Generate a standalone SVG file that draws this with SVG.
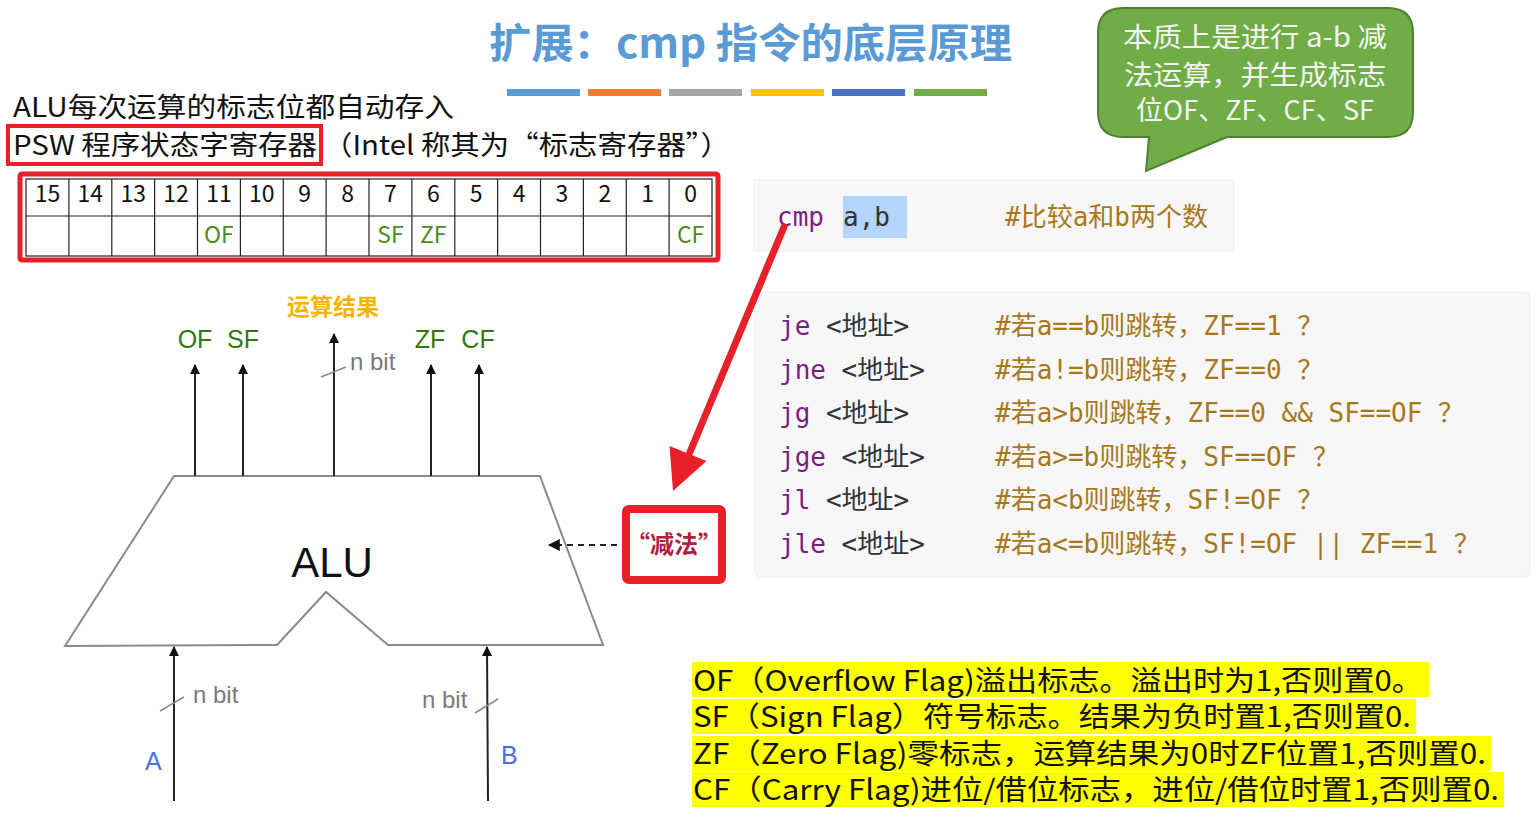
<svg xmlns="http://www.w3.org/2000/svg" width="1540" height="824" viewBox="0 0 1540 824">
<defs>
<marker id="ah" viewBox="0 0 10 10" refX="9" refY="5" markerWidth="14" markerHeight="10" orient="auto" markerUnits="userSpaceOnUse">
<path d="M0,0 L10,5 L0,10 z" fill="#111"/>
</marker>
<marker id="ah2" viewBox="0 0 10 10" refX="9" refY="5" markerWidth="14" markerHeight="12" orient="auto" markerUnits="userSpaceOnUse">
<path d="M0,0 L10,5 L0,10 z" fill="#111"/>
</marker>
<style>
.cjk{font-family:"Noto Sans CJK SC","Noto Sans",sans-serif;}
.sans{font-family:"Liberation Sans","Noto Sans CJK SC",sans-serif;}
.mono{font-family:"DejaVu Sans Mono","Noto Sans CJK SC",monospace;font-size:26px;}
.ins{fill:#7B1F7F;}
.arg{fill:#333;}
.cmt{fill:#A8771A;}
.num{font-family:"Noto Sans CJK SC",sans-serif;font-size:23px;fill:#111;text-anchor:middle;}
.flag{font-family:"Noto Sans CJK SC",sans-serif;font-size:23px;fill:#4E8A1E;text-anchor:middle;}
.gflag{font-family:"Liberation Sans",sans-serif;font-size:25px;fill:#2F7A10;text-anchor:middle;}
.nbit{font-family:"Liberation Sans",sans-serif;font-size:24px;fill:#7a7a7a;}
.wire{stroke:#222;stroke-width:2;fill:none;}
.tick{stroke:#888;stroke-width:1.5;}
.grid{stroke:#222;stroke-width:1.2;}
.ylw{fill:#FFFF00;}
.yt{font-family:"Noto Sans CJK SC",sans-serif;font-size:28px;fill:#111;}
</style>
</defs>
<rect width="1540" height="824" fill="#FFFFFF"/>

<g id="title">
<text x="489" y="58" class="cjk" font-size="41" font-weight="700" fill="#5B9BD5" textLength="523" lengthAdjust="spacingAndGlyphs">扩展：cmp 指令的底层原理</text>
<rect x="507" y="89" width="73" height="7" fill="#5B9BD5"/>
<rect x="588" y="89" width="73" height="7" fill="#ED7D31"/>
<rect x="669" y="89" width="73" height="7" fill="#A5A5A5"/>
<rect x="751" y="89" width="73" height="7" fill="#FFC000"/>
<rect x="832" y="89" width="73" height="7" fill="#4472C4"/>
<rect x="914" y="89" width="73" height="7" fill="#70AD47"/>
</g>

<g id="intro">
<text x="13" y="117" class="cjk" font-size="27" fill="#111" textLength="441" lengthAdjust="spacingAndGlyphs">ALU每次运算的标志位都自动存入</text>
<rect x="8" y="126" width="313" height="38" fill="none" stroke="#E8202A" stroke-width="4"/>
<text x="13" y="155" class="cjk" font-size="27" fill="#111" textLength="304" lengthAdjust="spacingAndGlyphs">PSW 程序状态字寄存器</text>
<text x="323" y="155" class="cjk" font-size="27" fill="#111" textLength="407" lengthAdjust="spacingAndGlyphs">（Intel 称其为“标志寄存器”）</text>
</g>

<g id="psw-register">
<rect x="20" y="174" width="698" height="86" fill="none" stroke="#E8202A" stroke-width="5" rx="2"/>
<rect x="26" y="179" width="686" height="77" fill="#fff" class="grid"/>
<line x1="26" y1="216" x2="712" y2="216" class="grid"/>
<g class="grid">
<line x1="68.9" y1="179" x2="68.9" y2="256"/>
<line x1="111.8" y1="179" x2="111.8" y2="256"/>
<line x1="154.6" y1="179" x2="154.6" y2="256"/>
<line x1="197.5" y1="179" x2="197.5" y2="256"/>
<line x1="240.4" y1="179" x2="240.4" y2="256"/>
<line x1="283.3" y1="179" x2="283.3" y2="256"/>
<line x1="326.1" y1="179" x2="326.1" y2="256"/>
<line x1="369" y1="179" x2="369" y2="256"/>
<line x1="411.9" y1="179" x2="411.9" y2="256"/>
<line x1="454.8" y1="179" x2="454.8" y2="256"/>
<line x1="497.6" y1="179" x2="497.6" y2="256"/>
<line x1="540.5" y1="179" x2="540.5" y2="256"/>
<line x1="583.4" y1="179" x2="583.4" y2="256"/>
<line x1="626.3" y1="179" x2="626.3" y2="256"/>
<line x1="669.1" y1="179" x2="669.1" y2="256"/>
</g>
<text class="num" x="47.4" y="202">15</text>
<text class="num" x="90.3" y="202">14</text>
<text class="num" x="133.2" y="202">13</text>
<text class="num" x="176.1" y="202">12</text>
<text class="num" x="218.9" y="202">11</text>
<text class="num" x="261.8" y="202">10</text>
<text class="num" x="304.7" y="202">9</text>
<text class="num" x="347.6" y="202">8</text>
<text class="num" x="390.4" y="202">7</text>
<text class="num" x="433.3" y="202">6</text>
<text class="num" x="476.2" y="202">5</text>
<text class="num" x="519.1" y="202">4</text>
<text class="num" x="561.9" y="202">3</text>
<text class="num" x="604.8" y="202">2</text>
<text class="num" x="647.7" y="202">1</text>
<text class="num" x="690.6" y="202">0</text>
<text class="flag" x="218.9" y="243">OF</text>
<text class="flag" x="390.4" y="243">SF</text>
<text class="flag" x="433.3" y="243">ZF</text>
<text class="flag" x="690.6" y="243">CF</text>
</g>

<g id="callout">
<path d="M1123,8 H1388 Q1413,8 1413,33 V112 Q1413,137 1388,137 H1227 L1146,171 L1149,137 H1123 Q1098,137 1098,112 V33 Q1098,8 1123,8 Z" fill="#70AD47" stroke="#507E32" stroke-width="2"/>
<text class="cjk" font-size="27" fill="#F4F4F4" text-anchor="middle" x="1255" y="47" textLength="264" lengthAdjust="spacingAndGlyphs">本质上是进行 a-b 减</text>
<text class="cjk" font-size="27" fill="#F4F4F4" text-anchor="middle" x="1255" y="85" textLength="262" lengthAdjust="spacingAndGlyphs">法运算，并生成标志</text>
<text class="cjk" font-size="27" fill="#F4F4F4" text-anchor="middle" x="1255" y="120" textLength="238" lengthAdjust="spacingAndGlyphs">位OF、ZF、CF、SF</text>
</g>

<g id="cmp-code">
<rect x="754" y="180" width="480" height="71" fill="#F7F7F9" stroke="#EEEEF0" stroke-width="1"/>
<rect x="843" y="196" width="64" height="42" fill="#B4D5FE"/>
<text class="mono ins" x="777" y="226">cmp</text>
<text class="mono arg" x="843" y="226">a,b</text>
<text class="mono cmt" x="1005" y="226">#比较a和b两个数</text>
</g>

<g id="jump-code">
<rect x="755" y="292" width="775" height="285" rx="6" fill="#F7F7F9" stroke="#EEEEF0" stroke-width="1"/>
<text class="mono" x="779" y="335"><tspan class="ins">je</tspan><tspan class="arg"> &lt;地址&gt;</tspan></text>
<text class="mono" x="779" y="379"><tspan class="ins">jne</tspan><tspan class="arg"> &lt;地址&gt;</tspan></text>
<text class="mono" x="779" y="422"><tspan class="ins">jg</tspan><tspan class="arg"> &lt;地址&gt;</tspan></text>
<text class="mono" x="779" y="466"><tspan class="ins">jge</tspan><tspan class="arg"> &lt;地址&gt;</tspan></text>
<text class="mono" x="779" y="509"><tspan class="ins">jl</tspan><tspan class="arg"> &lt;地址&gt;</tspan></text>
<text class="mono" x="779" y="553"><tspan class="ins">jle</tspan><tspan class="arg"> &lt;地址&gt;</tspan></text>
<text class="mono cmt" x="995" y="335">#若a==b则跳转，ZF==1 ？</text>
<text class="mono cmt" x="995" y="379">#若a!=b则跳转，ZF==0 ？</text>
<text class="mono cmt" x="995" y="422">#若a&gt;b则跳转，ZF==0 &amp;&amp; SF==OF ？</text>
<text class="mono cmt" x="995" y="466">#若a&gt;=b则跳转，SF==OF ？</text>
<text class="mono cmt" x="995" y="509">#若a&lt;b则跳转，SF!=OF ？</text>
<text class="mono cmt" x="995" y="553">#若a&lt;=b则跳转，SF!=OF || ZF==1 ？</text>
</g>

<g id="alu">
<path d="M174,476 L540,476 L603,645 L388,645 L326,592 L277,645 L65,646 Z" fill="#fff" stroke="#8a8a8a" stroke-width="2"/>
<text class="sans" font-size="42" fill="#111" text-anchor="middle" x="332" y="577">ALU</text>
</g>

<g id="alu-labels">
<text class="cjk" font-size="23" font-weight="700" fill="#F7B500" text-anchor="middle" x="333" y="315">运算结果</text>
<text class="gflag" x="195" y="348">OF</text>
<text class="gflag" x="243" y="348">SF</text>
<text class="gflag" x="430" y="348">ZF</text>
<text class="gflag" x="478" y="348">CF</text>
<text class="nbit" x="350" y="370">n bit</text>
<text class="nbit" x="193" y="703">n bit</text>
<text class="nbit" x="422" y="708">n bit</text>
<text class="sans" font-size="25" fill="#4A6FE0" x="145" y="770">A</text>
<text class="sans" font-size="25" fill="#4A6FE0" x="501" y="764">B</text>
</g>

<g id="subtract-box">
<rect x="626" y="509" width="96" height="71" rx="3" fill="#fff" stroke="#E8202A" stroke-width="8"/>
<text class="cjk" font-size="24" font-weight="700" fill="#B01E3C" text-anchor="middle" x="674" y="553">“减法”</text>
</g>

<g id="connectors">
<line class="wire" x1="195" y1="476" x2="195" y2="365" marker-end="url(#ah)"/>
<line class="wire" x1="243" y1="476" x2="243" y2="365" marker-end="url(#ah)"/>
<line class="wire" x1="334" y1="476" x2="334" y2="334" marker-end="url(#ah)"/>
<line class="wire" x1="431" y1="476" x2="431" y2="365" marker-end="url(#ah)"/>
<line class="wire" x1="479" y1="476" x2="479" y2="365" marker-end="url(#ah)"/>
<line class="tick" x1="321" y1="377" x2="346" y2="367"/>
<line class="wire" x1="174" y1="801" x2="174" y2="647" marker-end="url(#ah)"/>
<line class="wire" x1="488" y1="801" x2="487" y2="647" marker-end="url(#ah)"/>
<line class="tick" x1="160" y1="711" x2="184" y2="697"/>
<line class="tick" x1="475" y1="713" x2="498" y2="699"/>
<line x1="617" y1="545" x2="549" y2="545" stroke="#222" stroke-width="2" stroke-dasharray="6,5" marker-end="url(#ah2)"/>
<line x1="784" y1="227" x2="690" y2="452" stroke="#E8202A" stroke-width="7" stroke-linecap="round"/>
<polygon points="673,491 669.5,446 706.5,461" fill="#E8202A"/>
</g>

<g id="flag-notes">
<rect class="ylw" x="692" y="662" width="737" height="35"/>
<rect class="ylw" x="692" y="699" width="724" height="35"/>
<rect class="ylw" x="692" y="736" width="799" height="35"/>
<rect class="ylw" x="692" y="772" width="812" height="35"/>
<text class="yt" x="693" y="691" textLength="730" lengthAdjust="spacingAndGlyphs">OF（Overflow Flag)溢出标志。溢出时为1,否则置0。</text>
<text class="yt" x="693" y="727" textLength="718" lengthAdjust="spacingAndGlyphs">SF（Sign Flag）符号标志。结果为负时置1,否则置0.</text>
<text class="yt" x="693" y="764" textLength="793" lengthAdjust="spacingAndGlyphs">ZF（Zero Flag)零标志，运算结果为0时ZF位置1,否则置0.</text>
<text class="yt" x="693" y="800" textLength="806" lengthAdjust="spacingAndGlyphs">CF（Carry Flag)进位/借位标志，进位/借位时置1,否则置0.</text>
</g>
</svg>
